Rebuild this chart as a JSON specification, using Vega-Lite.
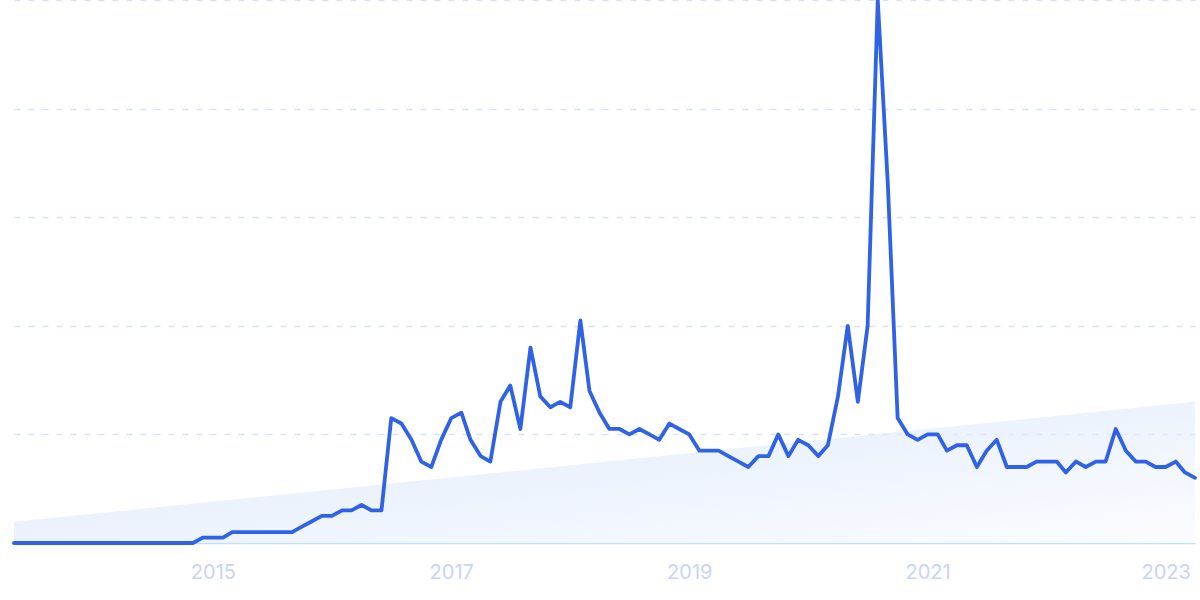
{
  "$schema": "https://vega.github.io/schema/vega-lite/v6.json",
  "width": 1181,
  "height": 543,
  "autosize": {"type": "none"},
  "padding": {"left": 14, "right": 5, "top": 0, "bottom": 57},
  "background": "white",
  "config": {"view": {"stroke": null}},
  "datasets": {
    "trend": [
      {"date": "2013-05-01", "value": 3.9},
      {"date": "2023-04-01", "value": 26}
    ],
    "series": [
      {"date": "2013-05-01", "value": 0}, {"date": "2013-06-01", "value": 0}, {"date": "2013-07-01", "value": 0}, {"date": "2013-08-01", "value": 0},
      {"date": "2013-09-01", "value": 0}, {"date": "2013-10-01", "value": 0}, {"date": "2013-11-01", "value": 0}, {"date": "2013-12-01", "value": 0},
      {"date": "2014-01-01", "value": 0}, {"date": "2014-02-01", "value": 0}, {"date": "2014-03-01", "value": 0}, {"date": "2014-04-01", "value": 0},
      {"date": "2014-05-01", "value": 0}, {"date": "2014-06-01", "value": 0}, {"date": "2014-07-01", "value": 0}, {"date": "2014-08-01", "value": 0},
      {"date": "2014-09-01", "value": 0}, {"date": "2014-10-01", "value": 0}, {"date": "2014-11-01", "value": 0}, {"date": "2014-12-01", "value": 1},
      {"date": "2015-01-01", "value": 1}, {"date": "2015-02-01", "value": 1}, {"date": "2015-03-01", "value": 2}, {"date": "2015-04-01", "value": 2},
      {"date": "2015-05-01", "value": 2}, {"date": "2015-06-01", "value": 2}, {"date": "2015-07-01", "value": 2}, {"date": "2015-08-01", "value": 2},
      {"date": "2015-09-01", "value": 2}, {"date": "2015-10-01", "value": 3}, {"date": "2015-11-01", "value": 4}, {"date": "2015-12-01", "value": 5},
      {"date": "2016-01-01", "value": 5}, {"date": "2016-02-01", "value": 6}, {"date": "2016-03-01", "value": 6}, {"date": "2016-04-01", "value": 7},
      {"date": "2016-05-01", "value": 6}, {"date": "2016-06-01", "value": 6}, {"date": "2016-07-01", "value": 23}, {"date": "2016-08-01", "value": 22},
      {"date": "2016-09-01", "value": 19}, {"date": "2016-10-01", "value": 15}, {"date": "2016-11-01", "value": 14}, {"date": "2016-12-01", "value": 19},
      {"date": "2017-01-01", "value": 23}, {"date": "2017-02-01", "value": 24}, {"date": "2017-03-01", "value": 19}, {"date": "2017-04-01", "value": 16},
      {"date": "2017-05-01", "value": 15}, {"date": "2017-06-01", "value": 26}, {"date": "2017-07-01", "value": 29}, {"date": "2017-08-01", "value": 21},
      {"date": "2017-09-01", "value": 36}, {"date": "2017-10-01", "value": 27}, {"date": "2017-11-01", "value": 25}, {"date": "2017-12-01", "value": 26},
      {"date": "2018-01-01", "value": 25}, {"date": "2018-02-01", "value": 41}, {"date": "2018-03-01", "value": 28}, {"date": "2018-04-01", "value": 24},
      {"date": "2018-05-01", "value": 21}, {"date": "2018-06-01", "value": 21}, {"date": "2018-07-01", "value": 20}, {"date": "2018-08-01", "value": 21},
      {"date": "2018-09-01", "value": 20}, {"date": "2018-10-01", "value": 19}, {"date": "2018-11-01", "value": 22}, {"date": "2018-12-01", "value": 21},
      {"date": "2019-01-01", "value": 20}, {"date": "2019-02-01", "value": 17}, {"date": "2019-03-01", "value": 17}, {"date": "2019-04-01", "value": 17},
      {"date": "2019-05-01", "value": 16}, {"date": "2019-06-01", "value": 15}, {"date": "2019-07-01", "value": 14}, {"date": "2019-08-01", "value": 16},
      {"date": "2019-09-01", "value": 16}, {"date": "2019-10-01", "value": 20}, {"date": "2019-11-01", "value": 16}, {"date": "2019-12-01", "value": 19},
      {"date": "2020-01-01", "value": 18}, {"date": "2020-02-01", "value": 16}, {"date": "2020-03-01", "value": 18}, {"date": "2020-04-01", "value": 27},
      {"date": "2020-05-01", "value": 40}, {"date": "2020-06-01", "value": 26}, {"date": "2020-07-01", "value": 40}, {"date": "2020-08-01", "value": 100},
      {"date": "2020-09-01", "value": 66}, {"date": "2020-10-01", "value": 23}, {"date": "2020-11-01", "value": 20}, {"date": "2020-12-01", "value": 19},
      {"date": "2021-01-01", "value": 20}, {"date": "2021-02-01", "value": 20}, {"date": "2021-03-01", "value": 17}, {"date": "2021-04-01", "value": 18},
      {"date": "2021-05-01", "value": 18}, {"date": "2021-06-01", "value": 14}, {"date": "2021-07-01", "value": 17}, {"date": "2021-08-01", "value": 19},
      {"date": "2021-09-01", "value": 14}, {"date": "2021-10-01", "value": 14}, {"date": "2021-11-01", "value": 14}, {"date": "2021-12-01", "value": 15},
      {"date": "2022-01-01", "value": 15}, {"date": "2022-02-01", "value": 15}, {"date": "2022-03-01", "value": 13}, {"date": "2022-04-01", "value": 15},
      {"date": "2022-05-01", "value": 14}, {"date": "2022-06-01", "value": 15}, {"date": "2022-07-01", "value": 15}, {"date": "2022-08-01", "value": 21},
      {"date": "2022-09-01", "value": 17}, {"date": "2022-10-01", "value": 15}, {"date": "2022-11-01", "value": 15}, {"date": "2022-12-01", "value": 14},
      {"date": "2023-01-01", "value": 14}, {"date": "2023-02-01", "value": 15}, {"date": "2023-03-01", "value": 13}, {"date": "2023-04-01", "value": 12}
    ]
  },
  "encoding": {
    "x": {
      "field": "date",
      "type": "temporal",
      "scale": {
        "type": "utc",
        "domain": [
          {"year": 2013, "month": 5, "date": 1, "utc": true},
          {"year": 2023, "month": 4, "date": 1, "utc": true}
        ]
      },
      "axis": {
        "title": null,
        "values": [
          {"year": 2015, "month": 1, "date": 1, "utc": true},
          {"year": 2017, "month": 1, "date": 1, "utc": true},
          {"year": 2019, "month": 1, "date": 1, "utc": true},
          {"year": 2021, "month": 1, "date": 1, "utc": true},
          {"year": 2023, "month": 1, "date": 1, "utc": true}
        ],
        "format": "%Y",
        "labelColor": "#c9d4f5",
        "labelFont": "Inter",
        "labelFontSize": 20,
        "labelPadding": 19,
        "labelOverlap": false,
        "ticks": false,
        "grid": false,
        "domain": true,
        "domainColor": "#bfe2fb",
        "domainWidth": 1.5
      }
    },
    "y": {
      "field": "value",
      "type": "quantitative",
      "scale": {"domain": [0, 100], "nice": false, "zero": true},
      "axis": {
        "title": null,
        "values": [20, 40, 60, 80, 100],
        "labels": false,
        "ticks": false,
        "domain": false,
        "grid": true,
        "gridDash": [6, 8],
        "gridColor": "#d6e2fb",
        "gridWidth": 1.5
      }
    }
  },
  "layer": [
    {
      "data": {"name": "trend"},
      "mark": {
        "type": "area",
        "fillOpacity": 0.6,
        "color": {
          "gradient": "linear",
          "x1": 0, "y1": 0, "x2": 1, "y2": 1,
          "stops": [
            {"offset": 0, "color": "#cadcf7"},
            {"offset": 1, "color": "#f7faff"}
          ]
        }
      }
    },
    {
      "data": {"name": "series"},
      "mark": {"type": "line", "color": "#2f62e4", "strokeWidth": 3.8, "strokeJoin": "round", "strokeCap": "round"}
    }
  ]
}
